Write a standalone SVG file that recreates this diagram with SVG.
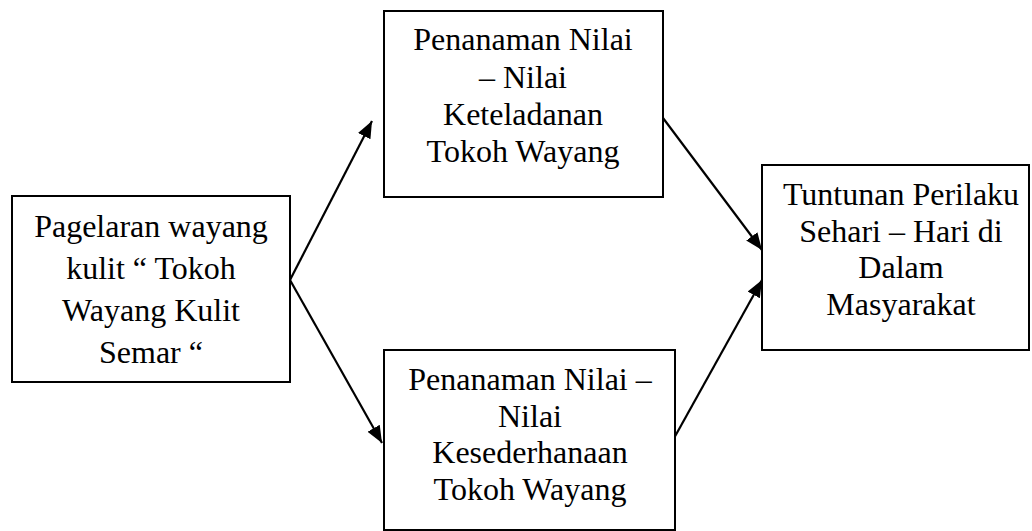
<svg xmlns="http://www.w3.org/2000/svg" width="1032" height="531" viewBox="0 0 1032 531">
<defs>
<style>
.box{fill:#fff;stroke:#000;stroke-width:2}
.t{font-family:"Liberation Serif","Times New Roman",serif;font-size:32px;fill:#000;text-anchor:middle}
.c{stroke:#000;stroke-width:2.2;fill:none;marker-end:url(#ah)}
</style>
<marker id="ah" markerUnits="userSpaceOnUse" markerWidth="20" markerHeight="16" refX="17" refY="7" orient="auto">
<path d="M0,0 L17,7 L0,14 Z" fill="#000"/>
</marker>
</defs>
<rect width="1032" height="531" fill="#fff"/>
<g id="connectors">
<line class="c" x1="290" y1="280" x2="372" y2="121"/>
<line class="c" x1="290" y1="280" x2="382" y2="443"/>
<line class="c" x1="663" y1="118" x2="762" y2="250"/>
<line class="c" x1="673" y1="440" x2="762" y2="280"/>
</g>
<g id="node1">
<rect class="box" x="12" y="196" width="278" height="186"/>
<text class="t" x="151" y="237">Pagelaran wayang</text>
<text class="t" x="151" y="279">kulit “ Tokoh</text>
<text class="t" x="151" y="321">Wayang Kulit</text>
<text class="t" x="151" y="363">Semar “</text>
</g>
<g id="node2">
<rect class="box" x="384" y="11" width="279" height="186"/>
<text class="t" x="523" y="50">Penanaman Nilai</text>
<text class="t" x="523" y="88">– Nilai</text>
<text class="t" x="523" y="125">Keteladanan</text>
<text class="t" x="523" y="162">Tokoh Wayang</text>
</g>
<g id="node3">
<rect class="box" x="384" y="350" width="291" height="180"/>
<text class="t" x="530" y="390">Penanaman Nilai –</text>
<text class="t" x="530" y="427">Nilai</text>
<text class="t" x="530" y="463">Kesederhanaan</text>
<text class="t" x="530" y="500">Tokoh Wayang</text>
</g>
<g id="node4">
<rect class="box" x="762" y="165" width="267" height="185"/>
<text class="t" x="901" y="205">Tuntunan Perilaku</text>
<text class="t" x="901" y="242">Sehari – Hari di</text>
<text class="t" x="901" y="278">Dalam</text>
<text class="t" x="901" y="315">Masyarakat</text>
</g>
</svg>
